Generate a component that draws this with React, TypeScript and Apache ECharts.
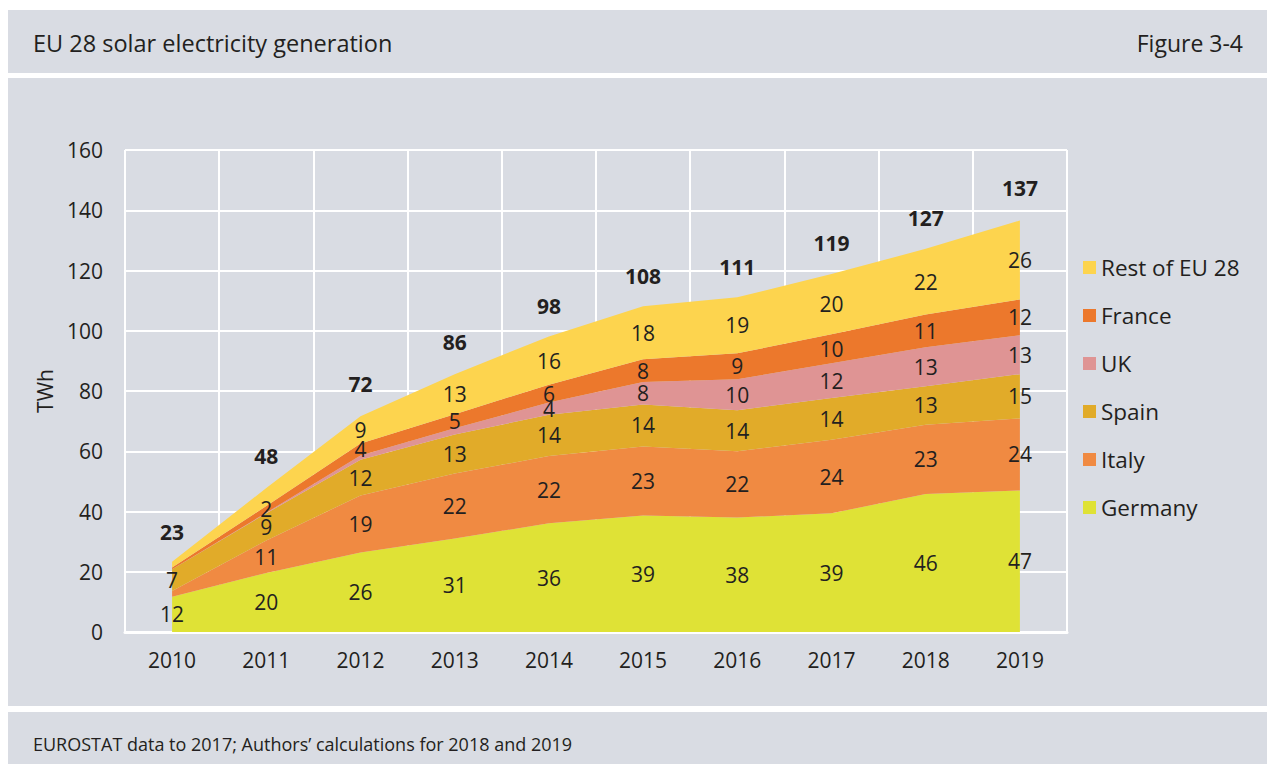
import React, { useEffect, useRef } from "react";
import * as echarts from "echarts";

const years = ["2010", "2011", "2012", "2013", "2014", "2015", "2016", "2017", "2018", "2019"];
const germany = [11.7, 19.6, 26.4, 31.0, 36.1, 38.7, 38.0, 39.4, 45.8, 47.0];
const italy = [1.9, 10.8, 18.9, 21.6, 22.3, 22.9, 22.0, 24.4, 23.0, 23.9];
const spain = [7.2, 9.0, 11.9, 13.0, 13.7, 13.9, 13.6, 13.9, 12.8, 14.7];
const uk = [0.0, 0.2, 1.4, 2.0, 4.1, 7.5, 10.3, 11.5, 12.9, 12.9];
const france = [0.6, 2.2, 4.0, 4.7, 5.9, 7.5, 8.6, 9.6, 10.9, 11.9];
const restOfEU = [1.9, 6.0, 9.0, 13.3, 16.0, 17.6, 18.6, 20.0, 21.8, 26.2];
const totals = [23, 48, 72, 86, 98, 108, 111, 119, 127, 137];
const yTicks = [0, 160, 20];

const seriesDefs = [
  { name: "Germany", data: germany, color: "#dfe236", hidden: [] as number[] },
  { name: "Italy", data: italy, color: "#f08a42", hidden: [0] },
  { name: "Spain", data: spain, color: "#e1ab29", hidden: [] as number[] },
  { name: "UK", data: uk, color: "#df9494", hidden: [0, 1, 2, 3] },
  { name: "France", data: france, color: "#ec782c", hidden: [0] },
  { name: "Rest of EU 28", data: restOfEU, color: "#fdd44e", hidden: [0, 1] },
];
const legendOrder = ["Rest of EU 28", "France", "UK", "Spain", "Italy", "Germany"];

const FONT = "'Open Sans', sans-serif";
const TEXT = "#231f20";

export default function App() {
  const ref = useRef<HTMLDivElement>(null);
  useEffect(() => {
    if (!ref.current) return;
    const chart = echarts.init(ref.current, null, { renderer: "svg" });

    const areaSeries = seriesDefs.map((s) => ({
      name: s.name,
      type: "line",
      stack: "total",
      data: s.data,
      symbol: "none",
      showSymbol: false,
      lineStyle: { width: 0, color: s.color },
      itemStyle: { color: s.color },
      areaStyle: { color: s.color, opacity: 1 },
      z: 2,
    }));

    const cum = years.map(() => 0);
    const labelData: any[] = [];
    seriesDefs.forEach((s) => {
      s.data.forEach((v, i) => {
        const mid = cum[i] + v / 2;
        cum[i] += v;
        if (!s.hidden.includes(i)) labelData.push({ value: [i, mid], raw: v });
      });
    });

    const labelSeries = {
      type: "scatter",
      data: labelData,
      symbolSize: 0,
      itemStyle: { color: TEXT, opacity: 1 },
      silent: true,
      z: 5,
      label: {
        show: true,
        position: "inside",
        color: TEXT,
        opacity: 1,
        textBorderWidth: 0,
        fontSize: 21,
        fontFamily: FONT,
        formatter: (p: any) => String(Math.round(p.data.raw)),
      },
    };

    const totalSeries = {
      type: "scatter",
      data: totals.map((t, i) => [i, t]),
      symbolSize: 0,
      itemStyle: { color: TEXT, opacity: 1 },
      silent: true,
      z: 5,
      label: {
        show: true,
        position: "inside",
        offset: [0, -31],
        color: TEXT,
        opacity: 1,
        textBorderWidth: 0,
        fontSize: 21,
        fontWeight: "bold",
        fontFamily: FONT,
        formatter: (p: any) => String(p.value[1]),
      },
    };

    chart.setOption({
      animation: false,
      textStyle: { fontFamily: FONT },
      title: [
        {
          text: "EU 28 solar electricity generation",
          left: 28,
          top: 26,
          textStyle: { fontSize: 23.5, fontWeight: "normal", color: TEXT, fontFamily: FONT },
        },
        {
          text: "Figure 3-4",
          right: 19,
          top: 26,
          textStyle: { fontSize: 23, fontWeight: "normal", color: TEXT, fontFamily: FONT },
        },
        {
          text: "EUROSTAT data to 2017; Authors\u2019 calculations for 2018 and 2019",
          left: 28,
          top: 730,
          textStyle: { fontSize: 18, fontWeight: "normal", color: TEXT, fontFamily: FONT },
        },
      ],
      legend: {
        data: legendOrder,
        orient: "vertical",
        left: 1078,
        top: 251,
        itemWidth: 13,
        itemHeight: 13,
        itemGap: 25,
        icon: "rect",
        textStyle: { fontSize: 22.5, color: TEXT, fontFamily: FONT, lineHeight: 22 },
      },
      grid: { left: 125, top: 150, width: 942, height: 482 },
      xAxis: {
        type: "category",
        data: years,
        boundaryGap: true,
        axisLine: { show: true, lineStyle: { color: "#ffffff", width: 3 } },
        axisTick: { show: false },
        axisLabel: { fontSize: 21, color: TEXT, margin: 17, fontFamily: FONT },
        splitLine: { show: true, lineStyle: { color: "#ffffff", width: 2 } },
        z: 1,
      },
      yAxis: {
        type: "value",
        min: yTicks[0],
        max: yTicks[1],
        interval: yTicks[2],
        name: "TWh",
        nameLocation: "middle",
        nameGap: 70,
        nameTextStyle: { fontSize: 21, color: TEXT, fontFamily: FONT },
        axisLine: { show: false },
        axisTick: { show: false },
        axisLabel: { fontSize: 21, color: TEXT, margin: 22, fontFamily: FONT },
        splitLine: { show: true, lineStyle: { color: "#ffffff", width: 2 } },
      },
      series: [...areaSeries, labelSeries, totalSeries],
    });

    return () => chart.dispose();
  }, []);

  const gray = "#d9dce3";
  return (
    <div style={{ position: "absolute", left: 0, top: 0, width: 1267, height: 764, background: "#ffffff", overflow: "hidden" }}>
      <div style={{ position: "absolute", left: 8, top: 10, width: 1259, height: 63, background: gray }} />
      <div style={{ position: "absolute", left: 8, top: 78, width: 1259, height: 628, background: gray }} />
      <div style={{ position: "absolute", left: 8, top: 712, width: 1259, height: 52, background: gray }} />
      <div ref={ref} style={{ position: "absolute", left: 0, top: 0, width: 1267, height: 764 }} />
    </div>
  );
}
